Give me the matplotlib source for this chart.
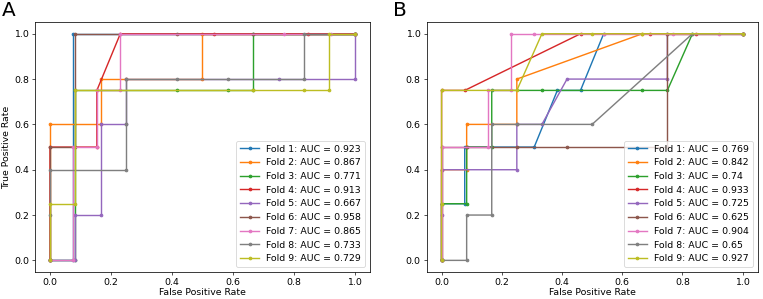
import numpy as np
import matplotlib.pyplot as plt

# --- Panel A: ROC curves per fold (fpr, tpr) ---
a_fpr = [
    [0, 1/13, 1/13, 1],
    [0, 0, 1/6, 1/6, 1/4, 1/2, 1/2, 1],
    [0, 1/12, 1/12, 5/12, 7/12, 8/12, 8/12, 1],
    [0, 0, 2/13, 2/13, 3/13, 7/13, 11/13, 1],
    [0, 1/12, 1/12, 2/12, 2/12, 3/12, 3/12, 9/12, 1, 1],
    [0, 0, 1/12, 1/12, 5/12, 8/12, 1],
    [0, 1/13, 1/13, 2/13, 2/13, 3/13, 3/13, 10/13, 12/13, 1],
    [0, 0, 0, 3/12, 3/12, 3/12, 5/12, 7/12, 10/12, 10/12, 1],
    [0, 0, 1/12, 1/12, 8/12, 10/12, 11/12, 11/12, 1],
]
a_tpr = [
    [0, 0, 1, 1],
    [0, 0.6, 0.6, 0.8, 0.8, 0.8, 1, 1],
    [0, 0, 0.75, 0.75, 0.75, 0.75, 1, 1],
    [0, 0.5, 0.5, 0.75, 1, 1, 1, 1],
    [0, 0, 0.2, 0.2, 0.6, 0.6, 0.8, 0.8, 0.8, 1],
    [0, 0.5, 0.5, 1, 1, 1, 1],
    [0, 0, 0.5, 0.5, 0.75, 0.75, 1, 1, 1, 1],
    [0, 0.2, 0.4, 0.4, 0.6, 0.8, 0.8, 0.8, 0.8, 1, 1],
    [0, 0.25, 0.25, 0.75, 0.75, 0.75, 0.75, 1, 1],
]
a_auc = ["0.923", "0.867", "0.771", "0.913", "0.667", "0.958", "0.865", "0.733", "0.729"]

# --- Panel B ---
b_fpr = [
    [0, 0, 1/13, 1/13, 4/13, 5/13, 6/13, 7/13, 1],
    [0, 0, 1/12, 1/12, 3/12, 3/12, 8/12, 1],
    [0, 0, 1/12, 1/12, 2/12, 2/12, 4/12, 8/12, 9/12, 10/12, 1],
    [0, 0, 1/13, 6/13, 9/13, 11/13, 1],
    [0, 0, 0, 3/12, 3/12, 4/12, 5/12, 9/12, 9/12, 1],
    [0, 0, 1/12, 3/12, 5/12, 9/12, 9/12, 1],
    [0, 0, 2/13, 2/13, 3/13, 3/13, 4/13, 7/13, 10/13, 12/13, 1],
    [0, 1/12, 1/12, 2/12, 2/12, 3/12, 6/12, 10/12, 1],
    [0, 0, 0, 3/12, 4/12, 6/12, 8/12, 1],
]
b_tpr = [
    [0, 0.25, 0.25, 0.5, 0.5, 0.75, 0.75, 1, 1],
    [0, 0.4, 0.4, 0.6, 0.6, 0.8, 1, 1],
    [0, 0.25, 0.25, 0.5, 0.5, 0.75, 0.75, 0.75, 0.75, 1, 1],
    [0, 0.75, 0.75, 1, 1, 1, 1],
    [0, 0.2, 0.4, 0.4, 0.6, 0.6, 0.8, 0.8, 1, 1],
    [0, 0.5, 0.5, 0.5, 0.5, 0.5, 1, 1],
    [0, 0.5, 0.5, 0.75, 0.75, 1, 1, 1, 1, 1, 1],
    [0, 0, 0.2, 0.2, 0.6, 0.6, 0.6, 1, 1],
    [0, 0.25, 0.75, 0.75, 1, 1, 1, 1],
]
b_auc = ["0.769", "0.842", "0.74", "0.933", "0.725", "0.625", "0.904", "0.65", "0.927"]

plt.rcParams['font.size'] = 11.3
plt.rcParams['lines.linewidth'] = 1.7
plt.rcParams['lines.markersize'] = 6.8
plt.rcParams['axes.linewidth'] = 0.9

fig = plt.figure(figsize=(763 / 60, 299 / 60), dpi=60)
ax_a = fig.add_axes([0.0455, 0.0913, 0.4395, 0.8337])
ax_b = fig.add_axes([0.559, 0.0913, 0.434, 0.8337])

for ax, fprs, tprs, aucs in [(ax_a, a_fpr, a_tpr, a_auc), (ax_b, b_fpr, b_tpr, b_auc)]:
    for i in range(len(fprs)):
        ax.plot(fprs[i], tprs[i], marker='.', label=f'Fold {i + 1}: AUC = {aucs[i]}')
    ax.set_xlabel('False Positive Rate', labelpad=2)
    ax.legend(loc='lower right')

ax_a.set_ylabel('True Positive Rate', labelpad=3)

fig.text(0.003, 0.995, 'A', fontsize=24, va='top', ha='left')
fig.text(0.515, 0.995, 'B', fontsize=24, va='top', ha='left')

fig.savefig('out.png', dpi=60)
